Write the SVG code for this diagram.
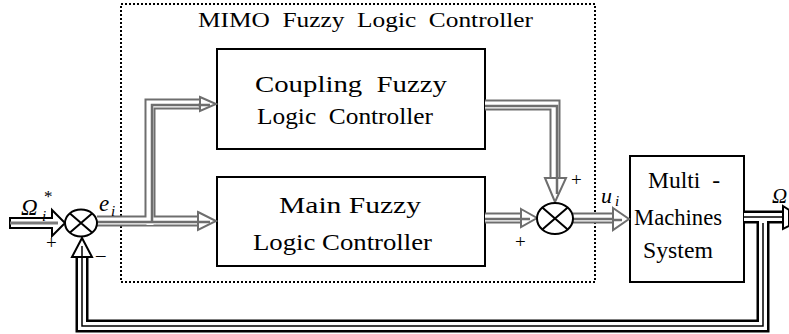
<svg xmlns="http://www.w3.org/2000/svg" width="789" height="334" viewBox="0 0 789 334">
  <style>
    text { font-family: 'Liberation Serif', 'Times New Roman', serif; fill: #000; }
    .box { fill: #fff; stroke: #000; stroke-width: 2; }
    .frame { fill: none; stroke: #000; stroke-width: 2; stroke-dasharray: 2 2; }
    .sum { fill: #fff; stroke: #000; stroke-width: 2; }
    .cross { stroke: #000; stroke-width: 2; }
    .g-out { fill: none; stroke: #6e6e6e; stroke-width: 11; }
    .g-in { fill: none; stroke: #fff; stroke-width: 7; }
    .g-mid { fill: none; stroke: #6e6e6e; stroke-width: 2.5; }
    .g-head { fill: #fff; stroke: #6e6e6e; stroke-width: 2; stroke-linejoin: miter; }
    .k-out { fill: none; stroke: #000; stroke-width: 13; }
    .k-in { fill: none; stroke: #fff; stroke-width: 8; }
    .k-mid { fill: none; stroke: #000; stroke-width: 1.5; }
    .k-head { fill: #fff; stroke: #000; stroke-width: 2; }
    .it { font-style: italic; }
  </style>

  <!-- controller boundary -->
  <g id="mimo-controller" font-family="Liberation Serif, serif">
    <rect class="frame" x="121" y="4" width="474" height="278"/>
    <text x="198" y="27" font-size="21" textLength="335" lengthAdjust="spacingAndGlyphs" xml:space="preserve">MIMO  Fuzzy  Logic  Controller</text>
  </g>

  <g id="coupling-flc" font-family="Liberation Serif, serif">
    <rect class="box" x="217" y="49" width="268" height="100"/>
    <text x="255" y="92" font-size="23" textLength="192" lengthAdjust="spacingAndGlyphs" xml:space="preserve">Coupling  Fuzzy</text>
    <text x="257" y="124" font-size="23" textLength="176" lengthAdjust="spacingAndGlyphs" xml:space="preserve">Logic  Controller</text>
  </g>

  <g id="main-flc" font-family="Liberation Serif, serif">
    <rect class="box" x="217" y="177" width="268" height="89"/>
    <text x="279" y="213" font-size="23" textLength="142" lengthAdjust="spacingAndGlyphs">Main Fuzzy</text>
    <text x="253" y="250" font-size="23" textLength="179" lengthAdjust="spacingAndGlyphs">Logic Controller</text>
  </g>

  <g id="plant" font-family="Liberation Serif, serif">
    <rect class="box" x="630" y="156" width="114" height="126"/>
    <text x="648" y="188" font-size="23" textLength="72" lengthAdjust="spacingAndGlyphs" xml:space="preserve">Multi  -</text>
    <text x="634" y="225" font-size="23" textLength="88" lengthAdjust="spacingAndGlyphs">Machines</text>
    <text x="643" y="258" font-size="23" textLength="70" lengthAdjust="spacingAndGlyphs">System</text>
  </g>

  <g id="connectors">
    <!-- e_i branch up to the coupling controller -->
    <path class="g-out" d="M97,221 H200 M150,221 V104 H202"/>
    <path class="g-in" d="M97,221 H200 M150,225 V104 H202"/>
    <path class="g-mid" d="M97,222 H206 M152,222 V105 H206"/>
    <path class="g-head" d="M200,97 L216,104 L200,111 Z"/>
    <path class="g-head" d="M198,212 L216,221 L198,230 Z"/>
    <path class="g-mid" d="M198,222 H210 M198,105 H210"/>

    <!-- coupling output down to the summing node -->
    <path class="g-out" d="M485,105 H555 V186"/>
    <path class="g-in" d="M485,105 H555 V186"/>
    <path class="g-mid" d="M485,106 H557 V192"/>
    <path class="g-head" d="M545,178 L555,202 L566,178 Z"/>
    <path class="g-mid" d="M557,178 V194"/>

    <!-- main output into the summing node -->
    <path class="g-out" d="M485,218 H524"/>
    <path class="g-in" d="M485,218 H524"/>
    <path class="g-mid" d="M485,219 H528"/>
    <path class="g-head" d="M521,209 L537,218 L521,227 Z"/>
    <path class="g-mid" d="M521,219 H530"/>

    <!-- u_i into the plant -->
    <path class="g-out" d="M573,218 H616"/>
    <path class="g-in" d="M573,218 H616"/>
    <path class="g-mid" d="M573,219 H620"/>
    <path class="g-head" d="M613,208 L629,219 L613,230 Z"/>
    <path class="g-mid" d="M613,220 H622"/>

    <!-- reference input -->
    <path d="M10,218 H52 V210 L65,223 L52,236 V228 H10 Z" fill="#fff" stroke="#000" stroke-width="2"/>
    <path d="M10,223 H58" stroke="#7a7a7a" stroke-width="3"/>

    <!-- plant output and feedback loop -->
    <path class="k-out" d="M744,217 H789"/>
    <path class="k-out" d="M763,217 V326 H82 V256"/>
    <path class="k-in" d="M744,217 H789"/>
    <path class="k-in" d="M763,217 V326 H82 V256"/>
    <path class="k-mid" d="M744,217 H789 M763,223 V326 H82 V250"/>
    <path class="k-head" d="M72,257 L82,238 L92,257 Z"/>
    <path class="k-mid" d="M82,257 V246"/>
    <path class="k-head" d="M783,206 L789,210 L789,226 L783,229 Z"/>
  </g>

  <!-- summing junctions -->
  <g id="sum-error">
    <ellipse class="sum" cx="81" cy="223" rx="16" ry="13.5"/>
    <path class="cross" d="M70,213.5 L92,232.5 M92,213.5 L70,232.5"/>
  </g>
  <g id="sum-output">
    <ellipse class="sum" cx="555" cy="218.5" rx="18" ry="15.5"/>
    <path class="cross" d="M542.3,207.5 L567.7,229.5 M567.7,207.5 L542.3,229.5"/>
  </g>

  <!-- signal labels and signs -->
  <g id="labels" font-family="Liberation Serif, serif">
    <text class="it" x="21" y="215" font-size="23">Ω</text>
    <text class="it" x="42" y="221" font-size="15">i</text>
    <text x="44" y="202" font-size="17">*</text>
    <text class="it" x="99" y="211" font-size="23">e</text>
    <text class="it" x="111" y="216" font-size="15">i</text>
    <text class="it" x="601" y="203" font-size="22">u</text>
    <text class="it" x="615" y="206" font-size="15">i</text>
    <text class="it" x="772" y="203" font-size="21">Ω</text>
    <text x="46" y="249" font-size="19">+</text>
    <text x="571" y="186" font-size="19">+</text>
    <text x="515" y="248" font-size="19">+</text>
    <text x="96" y="261" font-size="19">–</text>
  </g>
</svg>
